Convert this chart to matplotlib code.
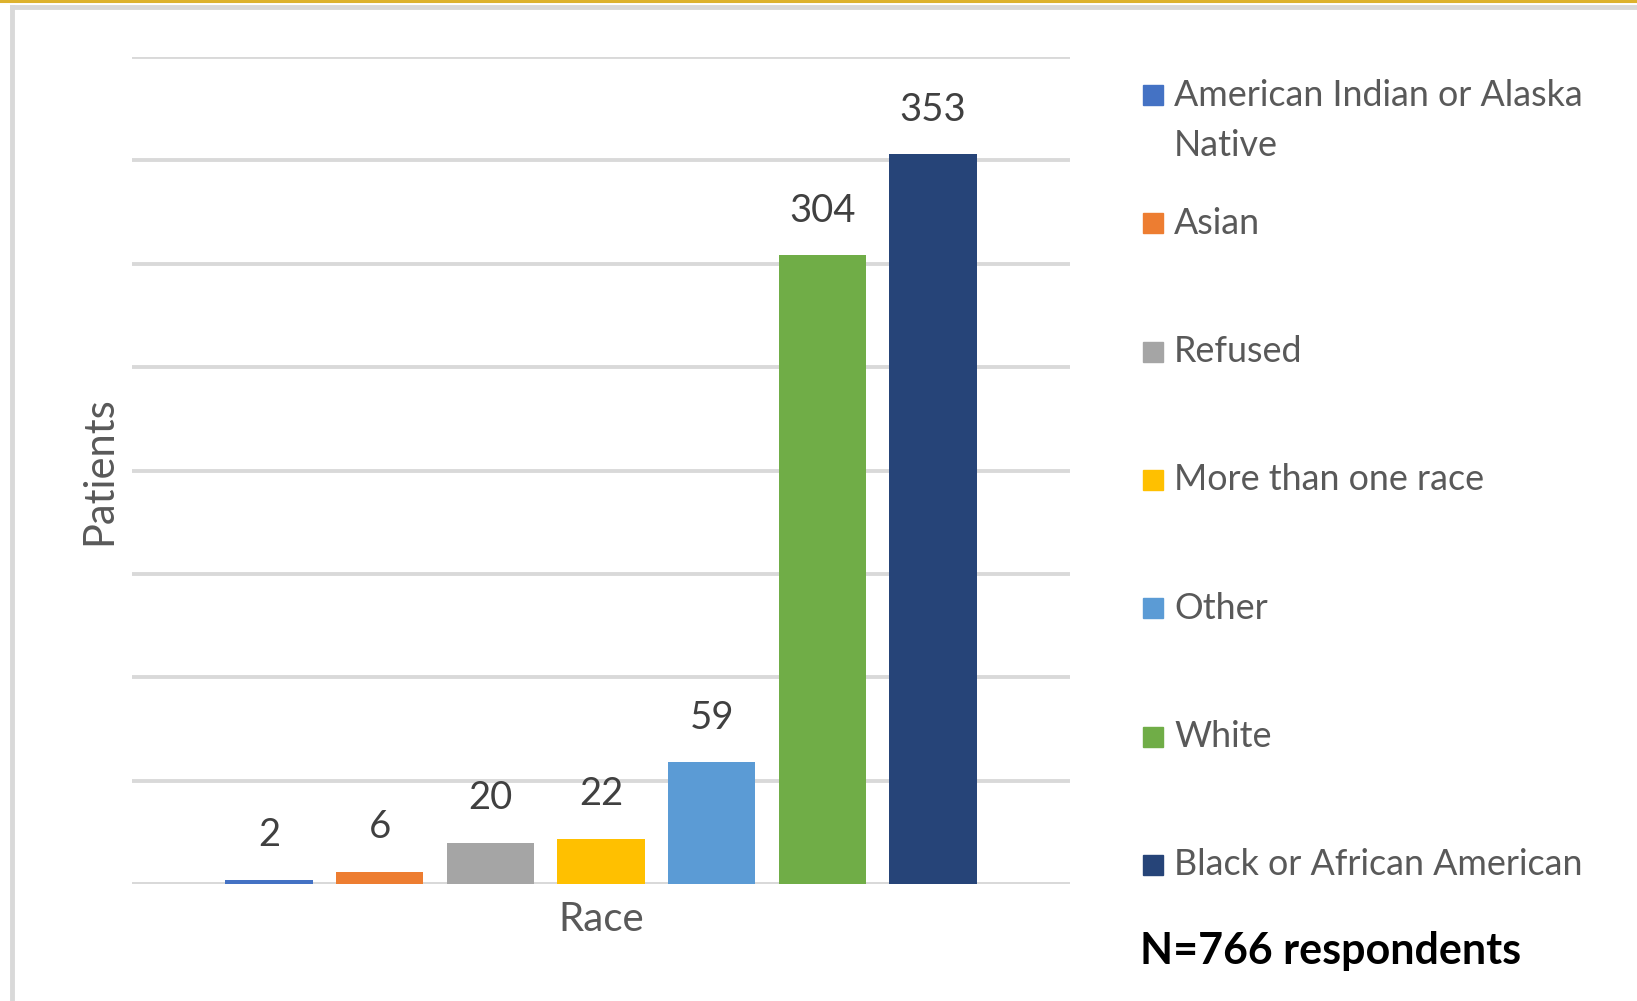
import matplotlib.pyplot as plt
from matplotlib.patches import Rectangle
from matplotlib.lines import Line2D

# race categories, counts, Excel colours
races = ["American Indian or Alaska\nNative", "Asian", "Refused",
         "More than one race", "Other", "White", "Black or African American"]
patients = [2, 6, 20, 22, 59, 304, 353]
colors = ["#4472C4", "#ED7D31", "#A5A5A5", "#FFC000", "#5B9BD5", "#70AD47", "#264478"]
yticks = [0, 50, 100, 150, 200, 250, 300, 350, 400]

W, H = 1637, 1001
fig = plt.figure(figsize=(W / 100, H / 100), dpi=100)
plt.rcParams['font.family'] = ['Lato', 'DejaVu Sans']
grey = "#595959"

# frame lines (gold top, grey card border)
fig.add_artist(Line2D([0, 1], [1 - 1 / H, 1 - 1 / H], color="#DDB22E", lw=2.2,
                      transform=fig.transFigure))
fig.add_artist(Line2D([11.5 / W, 1], [1 - 6.5 / H, 1 - 6.5 / H], color="#D9D9D9", lw=3.5,
                      transform=fig.transFigure))
fig.add_artist(Line2D([11.5 / W, 11.5 / W], [0, 1 - 6.5 / H], color="#D9D9D9", lw=3.5,
                      transform=fig.transFigure))

ax = fig.add_axes([132 / W, 117 / H, (1070 - 132) / W, (884 - 57) / H])
x = list(range(len(patients)))
bars = ax.bar(x, patients, width=0.79, color=colors, zorder=3)
ax.set_xlim(-1.24, 6.24 + 1.0)
ax.set_ylim(0, 400)
ax.set_yticks(yticks)
ax.yaxis.grid(True, color="#D9D9D9", lw=2.8, zorder=0)
ax.set_axisbelow(True)
ax.tick_params(left=False, bottom=False, labelleft=False, labelbottom=False)
for s in ax.spines.values():
    s.set_visible(False)
ax.axhline(0, color="#D9D9D9", lw=2.8, zorder=2)

for b, v in zip(bars, patients):
    ax.annotate(str(v), (b.get_x() + b.get_width() / 2, v), xytext=(0, 19),
                textcoords="offset points", ha="center", va="bottom",
                fontsize=27.5, color="#404040")

ax.set_ylabel("Patients", fontsize=30, color=grey, labelpad=10)
ax.set_xlabel("Race", fontsize=29, color=grey, labelpad=12)

# legend drawn by hand: uniform spacing like Excel
for i, (lab, c) in enumerate(zip(races, colors)):
    yc = 95 + i * 128.3
    fig.add_artist(Rectangle((1143 / W, 1 - (yc + 10) / H), 20 / W, 20 / H,
                             color=c, transform=fig.transFigure))
    lines = lab.split("\n")
    for j, ln in enumerate(lines):
        fig.text(1174 / W, 1 - (yc + j * 51) / H, ln, fontsize=25.8, color=grey,
                 ha="left", va="center")

fig.text(1140 / W, 1 - 951 / H, "N=766 respondents", fontsize=31, fontweight="bold",
         color="black", ha="left", va="center")

fig.savefig("out.png", dpi=100)
